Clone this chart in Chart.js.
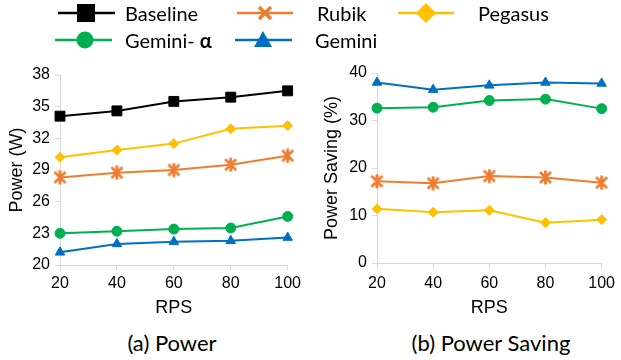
<!DOCTYPE html>
<html>
<head>
<meta charset="utf-8">
<script src="https://cdn.jsdelivr.net/npm/chart.js@4/dist/chart.umd.min.js"></script>
<style>
  html, body { margin:0; padding:0; background:#fff; }
  body { width:621px; height:360px; position:relative; overflow:hidden; font-family:Lato, "Open Sans", sans-serif; }
  .cv { position:absolute; }
  .leg { position:absolute; font-family:Lato, sans-serif; font-size:20px; color:#000; line-height:24px; white-space:nowrap; }
  .sw { position:absolute; }
  .cap { position:absolute; font-family:Lato, sans-serif; font-size:22px; color:#000; transform:translate(-50%,-50%); white-space:nowrap; }
</style>
</head>
<body>
<canvas id="c1" class="cv" style="left:0px;top:55px;width:305px;height:267px" width="305" height="267"></canvas>
<canvas id="c2" class="cv" style="left:315px;top:55px;width:306px;height:267px" width="306" height="267"></canvas>

<!-- legend -->
<svg class="sw" style="left:0;top:0" width="621" height="56">
  <line x1="58" y1="13" x2="115" y2="13" stroke="#000" stroke-width="2.5"/>
  <rect x="77" y="4" width="18" height="18" fill="#000"/>
  <line x1="237" y1="13" x2="293" y2="13" stroke="#ED7D31" stroke-width="2.5"/>
  <path d="M259 7 L271 19 M271 7 L259 19" stroke="#ED7D31" stroke-width="3.5"/>
  <line x1="398" y1="13" x2="454" y2="13" stroke="#FFC000" stroke-width="2.5"/>
  <path d="M426 3 L436 13 L426 23 L416 13 Z" fill="#FFC000"/>
  <line x1="55" y1="40" x2="112" y2="40" stroke="#00B050" stroke-width="2.5"/>
  <circle cx="85" cy="40" r="8.5" fill="#00B050"/>
  <line x1="235" y1="40" x2="292" y2="40" stroke="#0070C0" stroke-width="2.5"/>
  <path d="M263 31 L272 47 L254 47 Z" fill="#0070C0"/>
</svg>
<div class="leg" style="left:125px;top:1px">Baseline</div>
<div class="leg" style="left:317px;top:1px">Rubik</div>
<div class="leg" style="left:478px;top:1px">Pegasus</div>
<div class="leg" style="left:125px;top:28px">Gemini- <b>α</b></div>
<div class="leg" style="left:315px;top:28px">Gemini</div>

<div class="cap" style="left:172px;top:342px">(a) Power</div>
<div class="cap" style="left:491px;top:342px">(b) Power Saving</div>

<script>
// ---- data ----
const rps = ['20', '40', '60', '80', '100'];

const powerBaseline = [34.1, 34.6, 35.5, 35.9, 36.5];
const powerRubik    = [28.3, 28.75, 29.0, 29.5, 30.35];
const powerPegasus  = [30.2, 30.9, 31.5, 32.9, 33.2];
const powerGeminiA  = [23.0, 23.2, 23.4, 23.5, 24.6];
const powerGemini   = [21.2, 22.0, 22.2, 22.3, 22.6];

const saveRubik   = [17.2, 16.8, 18.3, 18.0, 16.9];
const savePegasus = [11.4, 10.7, 11.1, 8.5, 9.1];
const saveGeminiA = [32.6, 32.8, 34.2, 34.5, 32.5];
const saveGemini  = [38.0, 36.5, 37.4, 38.0, 37.8];

const powerTicks = [20, 23, 26, 29, 32, 35, 38];
const saveTicks  = [0, 10, 20, 30, 40];

const C = { base:'#000000', rubik:'#ED7D31', peg:'#FFC000', gemA:'#00B050', gem:'#0070C0' };

// asterisk marker for Rubik
function makeStar(color) {
  const s = 15, c = document.createElement('canvas');
  c.width = s; c.height = s;
  const g = c.getContext('2d');
  g.strokeStyle = color; g.lineWidth = 2.8; g.lineCap = 'butt';
  g.beginPath();
  g.moveTo(2, 2); g.lineTo(13, 13);
  g.moveTo(13, 2); g.lineTo(2, 13);
  g.moveTo(7.5, 0.5); g.lineTo(7.5, 14.5);
  g.stroke();
  return c;
}
const star = makeStar(C.rubik);

function ds(label, data, color, style, radius) {
  return {
    label, data, borderColor: color, backgroundColor: color,
    borderWidth: 2, pointStyle: style, pointRadius: radius,
    pointBorderWidth: 1, pointBackgroundColor: color, pointBorderColor: color,
    tension: 0, clip: false
  };
}

const tickFont = { family: 'Arial, "Liberation Sans", sans-serif', size: 16 };
const titleFont = { family: 'Arial, "Liberation Sans", sans-serif', size: 18 };

function makeOpts(ymin, ymax, step, ticksArr, ytitle, yWidth, xHeight, pad, xPad) {
  return {
    responsive: false, animation: false, devicePixelRatio: 1,
    layout: { padding: pad },
    plugins: { legend: { display: false }, tooltip: { enabled: false } },
    scales: {
      x: {
        type: 'category', offset: false,
        grid: { drawOnChartArea: false, drawTicks: true, tickLength: 5, color: '#d9d9d9' },
        border: { color: '#d9d9d9', width: 1 },
        ticks: { color: '#000', font: tickFont, padding: xPad, maxRotation: 0 },
        title: { display: true, text: 'RPS', color: '#000', font: titleFont, padding: { top: 2, bottom: 3 } },
        afterFit: (s) => { s.height = xHeight; }
      },
      y: {
        min: ymin, max: ymax,
        afterBuildTicks: (s) => { s.ticks = ticksArr.map(v => ({ value: v })); },
        grid: { drawOnChartArea: false, drawTicks: true, tickLength: 5, color: '#d9d9d9' },
        border: { color: '#d9d9d9', width: 1 },
        ticks: { color: '#000', font: tickFont, padding: 5, stepSize: step },
        title: { display: true, text: ytitle, color: '#000', font: titleFont, padding: { top: 6, bottom: 2 } },
        afterFit: (s) => { s.width = yWidth; }
      }
    }
  };
}

new Chart(document.getElementById('c1'), {
  type: 'line',
  data: {
    labels: rps,
    datasets: [
      ds('Baseline', powerBaseline, C.base, 'rect', 7),
      ds('Rubik', powerRubik, C.rubik, star, 7),
      ds('Pegasus', powerPegasus, C.peg, 'rectRot', 5),
      ds('Gemini- α', powerGeminiA, C.gemA, 'circle', 5),
      ds('Gemini', powerGemini, C.gem, 'triangle', 5.5)
    ]
  },
  options: makeOpts(20, 38, 3, powerTicks, 'Power (W)', 60, 57, { top: 20, right: 12, left: 0, bottom: 0 }, 4)
});

new Chart(document.getElementById('c2'), {
  type: 'line',
  data: {
    labels: rps,
    datasets: [
      ds('Baseline', [], C.base, 'rect', 7),
      ds('Rubik', saveRubik, C.rubik, star, 7),
      ds('Pegasus', savePegasus, C.peg, 'rectRot', 5),
      ds('Gemini- α', saveGeminiA, C.gemA, 'circle', 5),
      ds('Gemini', saveGemini, C.gem, 'triangle', 5.5)
    ]
  },
  options: makeOpts(0, 40, 10, saveTicks, 'Power Saving (%)', 62, 59, { top: 18, right: 14, left: 0, bottom: 0 }, 6)
});
</script>
</body>
</html>
